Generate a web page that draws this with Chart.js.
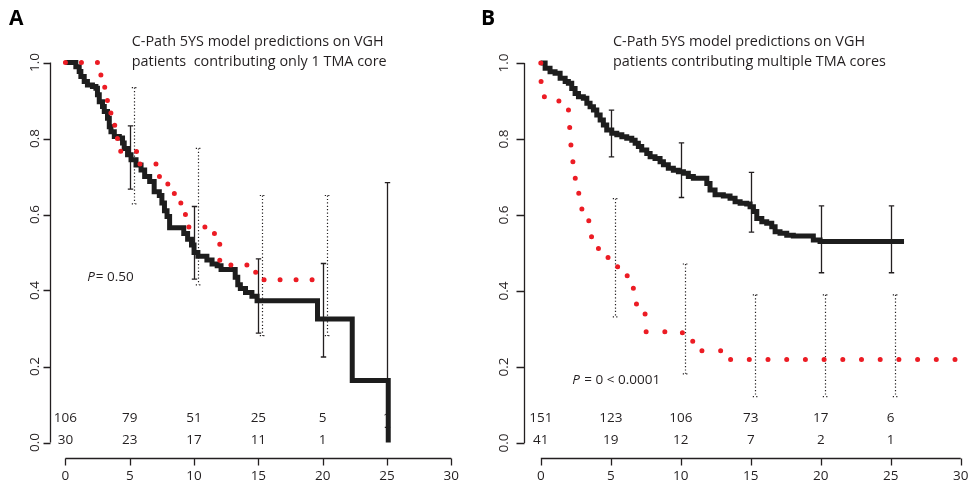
<!DOCTYPE html>
<html>
<head>
<meta charset="utf-8">
<script src="https://cdn.jsdelivr.net/npm/chart.js@4.4.0/dist/chart.umd.min.js"></script>
<style>
  body { margin: 0; background: #fff; width: 968px; height: 482px; position: relative; overflow: hidden; }
  canvas { position: absolute; top: 0; }
</style>
</head>
<body>
<canvas id="chartA" width="484" height="482" style="left:0px"></canvas>
<canvas id="chartB" width="500" height="482" style="left:468px"></canvas>
<script>
// ---- data ----
const xTicks = [0, 5, 10, 15, 20, 25, 30];
const yTicks = [0, 0.2, 0.4, 0.6, 0.8, 1.0];
const riskTimes = [0, 5, 10, 15, 20, 25];

// panel A : patients contributing only 1 TMA core
const kmTimesA = [0,0.55,0.81,1.07,1.2,1.46,1.71,2.1,2.37,2.49,2.63,2.88,3.02,3.27,3.41,3.54,3.8,4.19,4.44,4.57,4.83,5.1,5.49,5.88,6.16,6.55,6.9,7.3,7.5,7.7,7.9,8.1,9.2,9.5,9.8,10.0,10.3,11.0,11.4,11.8,12.1,13.2,13.4,13.6,14.0,14.5,14.9,19.6,22.3,25.1];
const kmSurvA  = [1.0,1.0,0.989,0.976,0.963,0.950,0.941,0.937,0.932,0.915,0.897,0.884,0.871,0.853,0.831,0.818,0.805,0.801,0.788,0.774,0.757,0.744,0.730,0.717,0.700,0.687,0.66,0.65,0.63,0.61,0.595,0.565,0.55,0.535,0.52,0.50,0.49,0.48,0.47,0.465,0.455,0.435,0.415,0.405,0.395,0.385,0.373,0.325,0.163,0.0];
const predTimesA = [0,2.6,2.85,3.1,3.35,3.6,3.85,4.1,4.3,5.65,7.2,7.6,8.1,8.6,9.0,9.45,11.2,12.0,14.4,15.0,19.4];
const predSurvA  = [1.0,0.967,0.935,0.90,0.867,0.835,0.80,0.78,0.766,0.733,0.70,0.68,0.655,0.63,0.60,0.567,0.55,0.467,0.448,0.428,0.428];
const ciTimesA = [5, 10, 15, 20, 25];
const ciLowA   = [0.667, 0.43, 0.288, 0.225, 0.04];
const ciHighA  = [0.833, 0.621, 0.483, 0.471, 0.684];
const predCiTimesA = [5.3, 10.3, 15.3, 20.3];
const predCiLowA   = [0.628, 0.415, 0.281, 0.281];
const predCiHighA  = [0.934, 0.774, 0.65, 0.65];
const riskA1 = ['106', '79', '51', '25', '5', '1'];
const riskA2 = ['30', '23', '17', '11', '1', ''];

// panel B : patients contributing multiple TMA cores
const kmTimesB = [0,0.31,0.66,1.02,1.38,1.74,1.97,2.21,2.45,2.69,3.04,3.29,3.52,3.76,4.0,4.24,4.47,4.71,5.07,5.43,5.79,6.14,6.5,6.74,6.97,7.21,7.57,7.81,8.16,8.52,8.76,9.11,9.47,9.83,10.19,10.54,10.9,11.86,12.09,12.45,13.04,13.52,13.88,14.24,14.71,14.95,15.19,15.43,15.79,16.14,16.5,16.74,17.09,17.57,18.04,19.47,19.95,25.95];
const kmSurvB  = [1.0,0.986,0.977,0.973,0.960,0.951,0.947,0.933,0.920,0.911,0.907,0.894,0.885,0.876,0.863,0.850,0.837,0.824,0.815,0.811,0.806,0.802,0.797,0.789,0.780,0.771,0.762,0.753,0.749,0.740,0.732,0.723,0.718,0.714,0.710,0.701,0.697,0.683,0.666,0.653,0.650,0.644,0.635,0.631,0.629,0.622,0.609,0.591,0.582,0.578,0.569,0.556,0.552,0.547,0.545,0.534,0.530,0.530];
const predTimesB = [0,0.02,1.2,1.9,2.05,2.15,2.25,2.35,2.55,2.8,3.0,3.5,3.8,4.4,5.0,5.7,6.4,6.7,7.0,7.45,10.1,10.6,11.2,13.0,29.6];
const predSurvB  = [1.0,0.911,0.90,0.876,0.83,0.784,0.74,0.697,0.657,0.616,0.585,0.543,0.512,0.488,0.464,0.44,0.407,0.366,0.341,0.293,0.29,0.268,0.243,0.22,0.22];
const ciTimesB = [5, 10, 15, 20, 25];
const ciLowB   = [0.753, 0.646, 0.555, 0.448, 0.448];
const ciHighB  = [0.876, 0.79, 0.712, 0.624, 0.624];
const predCiTimesB = [5.3, 10.3, 15.3, 20.3, 25.3];
const predCiLowB   = [0.332, 0.182, 0.122, 0.122, 0.122];
const predCiHighB  = [0.643, 0.471, 0.39, 0.39, 0.39];
const riskB1 = ['151', '123', '106', '73', '17', '6'];
const riskB2 = ['41', '19', '12', '7', '2', '1'];

const FONT = "'Open Sans', 'Noto Sans', sans-serif";
const INK = '#231f20';
const RED = '#ec1c24';

function pts(ts, vs) {
  return ts.map((t, i) => ({ x: t, y: vs[i] }));
}

function drawBars(ctx, xs, ys, ts, lo, hi, dotted) {
  ctx.save();
  ctx.strokeStyle = INK;
  ctx.lineWidth = dotted ? 1.2 : 1.3;
  ctx.setLineDash(dotted ? [1.2, 2.2] : []);
  ts.forEach((t, i) => {
    const x = Math.round(xs.getPixelForValue(t)) + 0.5;
    const y1 = ys.getPixelForValue(hi[i]);
    const y2 = ys.getPixelForValue(lo[i]);
    ctx.beginPath();
    ctx.moveTo(x, y1); ctx.lineTo(x, y2);
    ctx.moveTo(x - 2.7, y1); ctx.lineTo(x + 2.7, y1);
    ctx.moveTo(x - 2.7, y2); ctx.lineTo(x + 2.7, y2);
    ctx.stroke();
  });
  ctx.restore();
}

function makeDecor(p) {
  return {
    id: 'decor',
    beforeDatasetsDraw(chart) {
      const ctx = chart.ctx, xs = chart.scales.x, ys = chart.scales.y;
      drawBars(ctx, xs, ys, p.ciTimes, p.ciLow, p.ciHigh, false);
      drawBars(ctx, xs, ys, p.predCiTimes, p.predCiLow, p.predCiHigh, true);

      ctx.save();
      ctx.fillStyle = INK;
      ctx.font = '13.5px ' + FONT;
      ctx.textAlign = 'center';
      ctx.textBaseline = 'middle';
      riskTimes.forEach((t, i) => {
        const x = xs.getPixelForValue(t);
        ctx.fillText(p.risk1[i], x, ys.getPixelForValue(0.065));
        ctx.fillText(p.risk2[i], x, ys.getPixelForValue(0.007));
      });

      // p-value
      ctx.textAlign = 'left';
      let px = xs.getPixelForValue(p.pAt[0]);
      const py = ys.getPixelForValue(p.pAt[1]);
      ctx.font = 'italic 13.5px ' + FONT;
      ctx.fillText('P', px, py);
      px += ctx.measureText('P').width + 1;
      ctx.font = '13.5px ' + FONT;
      ctx.fillText(p.pText, px, py);
      ctx.restore();
    },
    afterDraw(chart) {
      const ctx = chart.ctx, xs = chart.scales.x, ys = chart.scales.y;
      const area = chart.chartArea;
      ctx.save();
      ctx.strokeStyle = INK;
      ctx.fillStyle = INK;
      ctx.lineWidth = 1.3;

      // y axis
      const ax = Math.round(area.left) + 0.5;
      ctx.beginPath();
      ctx.moveTo(ax, ys.getPixelForValue(0));
      ctx.lineTo(ax, ys.getPixelForValue(1));
      yTicks.forEach(v => {
        const y = Math.round(ys.getPixelForValue(v)) + 0.5;
        ctx.moveTo(ax - p.tickLen, y); ctx.lineTo(ax, y);
      });
      ctx.stroke();
      ctx.font = '13.5px ' + FONT;
      ctx.textAlign = 'center';
      ctx.textBaseline = 'middle';
      yTicks.forEach(v => {
        ctx.save();
        ctx.translate(ax - p.yLabelGap, ys.getPixelForValue(v));
        ctx.rotate(-Math.PI / 2);
        ctx.fillText(v.toFixed(1), 0, 0);
        ctx.restore();
      });

      // x axis
      const ay = Math.round(area.bottom) + 0.5;
      ctx.beginPath();
      ctx.moveTo(xs.getPixelForValue(0), ay);
      ctx.lineTo(xs.getPixelForValue(30), ay);
      xTicks.forEach(t => {
        const x = Math.round(xs.getPixelForValue(t)) + 0.5;
        ctx.moveTo(x, ay); ctx.lineTo(x, ay + 7);
      });
      ctx.stroke();
      xTicks.forEach(t => ctx.fillText(String(t), xs.getPixelForValue(t), ay + 17.5));

      // titles
      ctx.textAlign = 'left';
      ctx.font = '14.4px ' + FONT;
      ctx.fillText(p.title[0], p.titleX, 42);
      ctx.fillText(p.title[1], p.titleX, 61.5);
      ctx.font = 'bold 21px ' + FONT;
      ctx.fillStyle = '#000';
      ctx.fillText(p.letter, p.letterX, 19.5);
      ctx.restore();
    }
  };
}

function makeChart(id, p) {
  return new Chart(document.getElementById(id), {
    type: 'line',
    data: {
      datasets: [
        {
          data: pts(p.predTimes, p.predSurv),
          stepped: true,
          borderColor: RED,
          borderWidth: 5,
          borderDash: [0, p.dotGap],
          borderCapStyle: 'round',
          pointRadius: 0,
          fill: false
        },
        {
          data: pts(p.kmTimes, p.kmSurv),
          stepped: true,
          borderColor: '#1d1d1d',
          borderWidth: 5,
          borderCapStyle: 'butt',
          borderJoinStyle: 'miter',
          pointRadius: 0,
          fill: false
        }
      ]
    },
    options: {
      responsive: false,
      animation: false,
      layout: { padding: p.padding },
      plugins: { legend: { display: false }, tooltip: { enabled: false } },
      scales: {
        x: { type: 'linear', display: false, min: -1.2, max: p.xMax },
        y: { type: 'linear', display: false, min: -0.04, max: 1.04 }
      }
    },
    plugins: [makeDecor(p)]
  });
}

makeChart('chartA', {
  kmTimes: kmTimesA, kmSurv: kmSurvA, predTimes: predTimesA, predSurv: predSurvA,
  ciTimes: ciTimesA, ciLow: ciLowA, ciHigh: ciHighA,
  predCiTimes: predCiTimesA, predCiLow: predCiLowA, predCiHigh: predCiHighA,
  risk1: riskA1, risk2: riskA2,
  pAt: [1.69, 0.436], pText: '= 0.50',
  title: ['C-Path 5YS model predictions on VGH', 'patients  contributing only 1 TMA core'],
  titleX: 131.7, letter: 'A', letterX: 9,
  dotGap: 16, xMax: 31.2, tickLen: 7, yLabelGap: 15,
  padding: { left: 50, right: 17.3, top: 47.3, bottom: 24.3 }
});

makeChart('chartB', {
  kmTimes: kmTimesB, kmSurv: kmSurvB, predTimes: predTimesB, predSurv: predSurvB,
  ciTimes: ciTimesB, ciLow: ciLowB, ciHigh: ciHighB,
  predCiTimes: predCiTimesB, predCiLow: predCiLowB, predCiHigh: predCiHighB,
  risk1: riskB1, risk2: riskB2,
  pAt: [2.24, 0.166], pText: ' = 0 < 0.0001',
  title: ['C-Path 5YS model predictions on VGH', 'patients contributing multiple TMA cores'],
  titleX: 145, letter: 'B', letterX: 13,
  dotGap: 18.7, xMax: 30.52, tickLen: 8, yLabelGap: 20,
  padding: { left: 56, right: 0, top: 47.8, bottom: 23.8 }
});
</script>
</body>
</html>
